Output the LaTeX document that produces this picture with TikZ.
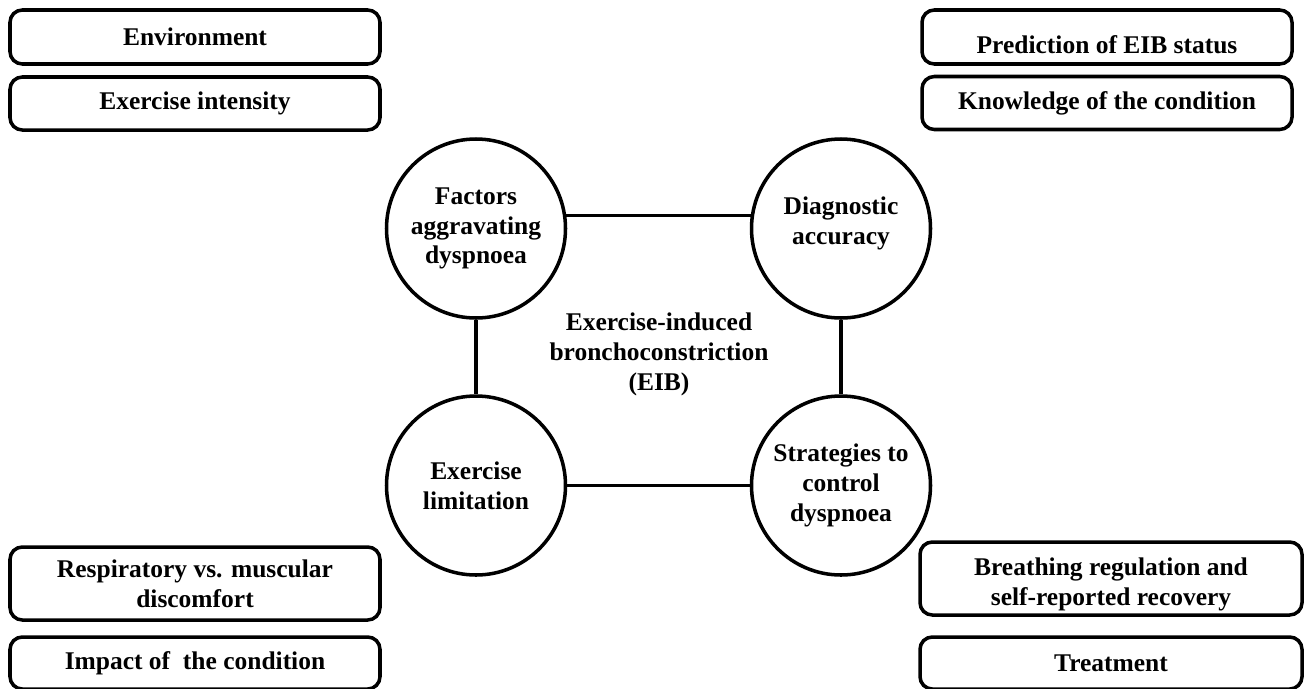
\documentclass[tikz,border=0pt]{standalone}
\usepackage{fontspec}
\setmainfont{Liberation Serif}
\usepackage{tikz}
\usepackage{xcolor}
\usetikzlibrary{positioning}
\definecolor{eibInk}{RGB}{0,0,0}

\begin{document}
\begin{tikzpicture}[
  every node/.style={font=\fontsize{14.5}{17}\selectfont\bfseries,text=eibInk},
  every label/.style={align=center},
  tagbox/.style={draw=eibInk,line width=2pt,rounded corners=7pt,fill=white,align=center,
    minimum width=7.40cm,inner sep=0pt},
  theme/.style={circle,draw=eibInk,line width=2pt,fill=white,align=center,
    minimum size=3.58cm,inner sep=0pt},
  link/.style={draw=eibInk,line width=1.8pt}
]
  \useasboundingbox (0,0) rectangle (26.24,-13.76);

  \node[theme] (fac) at (9.52,-4.57) {Factors\\aggravating\\dyspnoea};
  \node[theme,label={[yshift=0.1cm]center:Diagnostic\\accuracy}] (diag) at (16.82,-4.57) {};
  \node[theme] (lim) at (9.52,-9.71) {Exercise\\limitation};
  \node[theme] (strat) at (16.82,-9.71) {Strategies to\\control\\dyspnoea};

  \node[align=center] (eib) at (13.18,-7.08) {Exercise-induced\\bronchoconstriction\\(EIB)};

  \draw[link] (fac.8) -- (diag.172);
  \draw[link] (fac) -- (lim);
  \draw[link] (diag) -- (strat);
  \draw[link] (lim) -- (strat);

  \node[tagbox,minimum height=1.08cm] (env) at (3.90,-0.74) {Environment};
  \node[tagbox,minimum height=1.06cm] (intens) at (3.90,-2.07) {Exercise intensity};
  \node[tagbox,minimum height=1.08cm,label={[yshift=-0.16cm]center:Prediction of EIB status}] (pred) at (22.14,-0.74) {};
  \node[tagbox,minimum height=1.06cm] (know) at (22.14,-2.06) {Knowledge of the condition};

  \node[tagbox,minimum height=1.46cm] (resp) at (3.90,-11.67) {Respiratory vs. muscular\\discomfort};
  \node[tagbox,minimum height=1.04cm] (impact) at (3.90,-13.26) {Impact of~ the condition};
  \node[tagbox,minimum width=7.64cm,minimum height=1.46cm,label={[yshift=-0.11cm]center:Breathing regulation and\\self-reported recovery}] (breath) at (22.22,-11.57) {};
  \node[tagbox,minimum width=7.64cm,minimum height=1.04cm] (treat) at (22.22,-13.26) {Treatment};
\end{tikzpicture}
\end{document}
